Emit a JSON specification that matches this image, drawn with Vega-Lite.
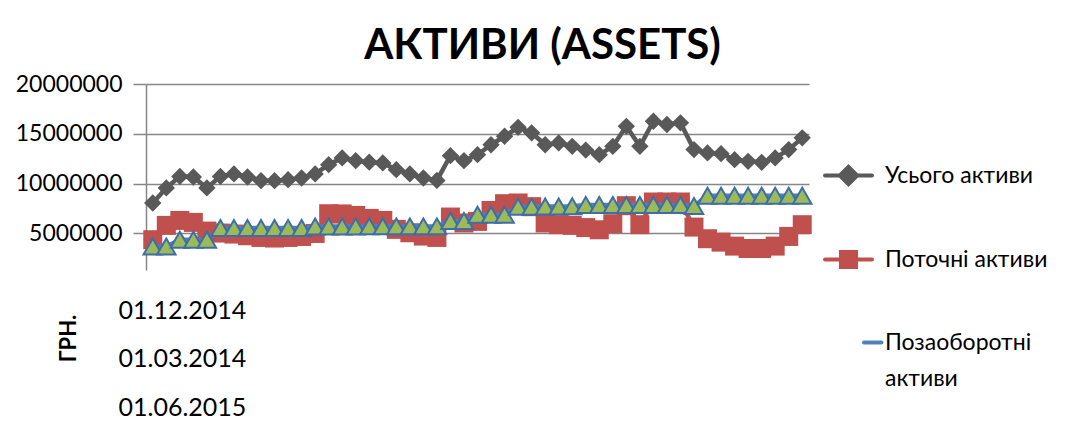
{
  "$schema": "https://vega.github.io/schema/vega-lite/v6.json",
  "autosize": {"type": "none"},
  "padding": {"left": 146, "top": 84, "right": 264, "bottom": 177},
  "width": 663,
  "height": 186,
  "background": "white",
  "config": {
    "view": {"stroke": null},
    "font": "Lato",
    "axis": {"labelFont": "Lato", "labelColor": "black", "titleFont": "Lato", "titleColor": "black"},
    "legend": {"labelFont": "Lato", "labelColor": "black"}
  },
  "title": {
    "text": "АКТИВИ (ASSETS)",
    "font": "Lato",
    "fontSize": 42,
    "fontWeight": "bold",
    "color": "black",
    "anchor": "middle",
    "dx": 65,
    "offset": 5
  },
  "data": {
    "values": [
      {"n": 1, "Усього активи": 8050000, "Поточні активи": 4360000, "Позаоборотні активи": 3680000},
      {"n": 2, "Усього активи": 9560000, "Поточні активи": 5800000, "Позаоборотні активи": 3680000},
      {"n": 3, "Усього активи": 10720000, "Поточні активи": 6300000, "Позаоборотні активи": 4360000},
      {"n": 4, "Усього активи": 10660000, "Поточні активи": 6100000, "Позаоборотні активи": 4360000},
      {"n": 5, "Усього активи": 9560000, "Поточні активи": 5230000, "Позаоборотні активи": 4360000},
      {"n": 6, "Усього активи": 10720000, "Поточні активи": 5030000, "Позаоборотні активи": 5530000},
      {"n": 7, "Усього активи": 10970000, "Поточні активи": 4930000, "Позаоборотні активи": 5530000},
      {"n": 8, "Усього активи": 10660000, "Поточні активи": 4760000, "Позаоборотні активи": 5530000},
      {"n": 9, "Усього активи": 10290000, "Поточні активи": 4590000, "Позаоборотні активи": 5530000},
      {"n": 10, "Усього активи": 10290000, "Поточні активи": 4530000, "Позаоборотні активи": 5530000},
      {"n": 11, "Усього активи": 10390000, "Поточні активи": 4590000, "Позаоборотні активи": 5530000},
      {"n": 12, "Усього активи": 10560000, "Поточні активи": 4690000, "Позаоборотні активи": 5530000},
      {"n": 13, "Усього активи": 10970000, "Поточні активи": 4990000, "Позаоборотні активи": 5680000},
      {"n": 14, "Усього активи": 11900000, "Поточні активи": 6970000, "Позаоборотні активи": 5680000},
      {"n": 15, "Усього активи": 12580000, "Поточні активи": 6950000, "Позаоборотні активи": 5680000},
      {"n": 16, "Усього активи": 12300000, "Поточні активи": 6800000, "Позаоборотні активи": 5680000},
      {"n": 17, "Усього активи": 12150000, "Поточні активи": 6500000, "Позаоборотні активи": 5700000},
      {"n": 18, "Усього активи": 12070000, "Поточні активи": 6300000, "Позаоборотні активи": 5700000},
      {"n": 19, "Усього активи": 11400000, "Поточні активи": 5400000, "Позаоборотні активи": 5700000},
      {"n": 20, "Усього активи": 10970000, "Поточні активи": 5060000, "Позаоборотні активи": 5700000},
      {"n": 21, "Усього активи": 10560000, "Поточні активи": 4730000, "Позаоборотні активи": 5700000},
      {"n": 22, "Усього активи": 10320000, "Поточні активи": 4590000, "Позаоборотні активи": 5700000},
      {"n": 23, "Усього активи": 12800000, "Поточні активи": 6640000, "Позаоборотні активи": 6250000},
      {"n": 24, "Усього активи": 12300000, "Поточні активи": 6040000, "Позаоборотні активи": 6250000},
      {"n": 25, "Усього активи": 12900000, "Поточні активи": 6200000, "Позаоборотні активи": 6870000},
      {"n": 26, "Усього активи": 13900000, "Поточні активи": 7300000, "Позаоборотні активи": 6870000},
      {"n": 27, "Усього активи": 14750000, "Поточні активи": 7980000, "Позаоборотні активи": 6870000},
      {"n": 28, "Усього активи": 15650000, "Поточні активи": 8050000, "Позаоборотні активи": 7680000},
      {"n": 29, "Усього активи": 15100000, "Поточні активи": 7680000, "Позаоборотні активи": 7680000},
      {"n": 30, "Усього активи": 13900000, "Поточні активи": 6040000, "Позаоборотні активи": 7700000},
      {"n": 31, "Усього активи": 14080000, "Поточні активи": 5870000, "Позаоборотні активи": 7700000},
      {"n": 32, "Усього активи": 13740000, "Поточні активи": 5800000, "Позаоборотні активи": 7720000},
      {"n": 33, "Усього активи": 13360000, "Поточні активи": 5580000, "Позаоборотні активи": 7850000},
      {"n": 34, "Усього активи": 12900000, "Поточні активи": 5360000, "Позаоборотні активи": 7850000},
      {"n": 35, "Усього активи": 13740000, "Поточні активи": 5970000, "Позаоборотні активи": 7850000},
      {"n": 36, "Усього активи": 15750000, "Поточні активи": 7780000, "Позаоборотні активи": 7850000},
      {"n": 37, "Усього активи": 13740000, "Поточні активи": 5870000, "Позаоборотні активи": 7850000},
      {"n": 38, "Усього активи": 16260000, "Поточні активи": 8150000, "Позаоборотні активи": 7850000},
      {"n": 39, "Усього активи": 15930000, "Поточні активи": 8150000, "Позаоборотні активи": 7850000},
      {"n": 40, "Усього активи": 16100000, "Поточні активи": 8150000, "Позаоборотні активи": 7850000},
      {"n": 41, "Усього активи": 13410000, "Поточні активи": 5630000, "Позаоборотні активи": 7750000},
      {"n": 42, "Усього активи": 13080000, "Поточні активи": 4460000, "Позаоборотні активи": 8780000},
      {"n": 43, "Усього активи": 13000000, "Поточні активи": 4120000, "Позаоборотні активи": 8780000},
      {"n": 44, "Усього активи": 12400000, "Поточні активи": 3720000, "Позаоборотні активи": 8780000},
      {"n": 45, "Усього активи": 12230000, "Поточні активи": 3480000, "Позаоборотні активи": 8780000},
      {"n": 46, "Усього активи": 12130000, "Поточні активи": 3480000, "Позаоборотні активи": 8780000},
      {"n": 47, "Усього активи": 12580000, "Поточні активи": 3720000, "Позаоборотні активи": 8780000},
      {"n": 48, "Усього активи": 13410000, "Поточні активи": 4690000, "Позаоборотні активи": 8780000},
      {"n": 49, "Усього активи": 14590000, "Поточні активи": 5870000, "Позаоборотні активи": 8780000}
    ]
  },
  "transform": [
    {"fold": ["Усього активи", "Поточні активи", "Позаоборотні активи"], "as": ["series", "value"]}
  ],
  "encoding": {
    "x": {
      "field": "n",
      "type": "ordinal",
      "scale": {"type": "point", "padding": 0.5},
      "axis": {
        "labels": false,
        "ticks": false,
        "domain": false,
        "grid": false,
        "title": ["01.12.2014", "01.03.2014", "01.06.2015"],
        "titleFontSize": 25,
        "titleFontWeight": "normal",
        "titleLineHeight": 48.5,
        "titleAlign": "left",
        "titleBaseline": "middle",
        "titleX": -28,
        "titleY": 40
      }
    },
    "y": {
      "field": "value",
      "type": "quantitative",
      "scale": {"domain": [1320000, 20000000], "nice": false, "zero": false},
      "axis": {
        "values": [5000000, 10000000, 15000000, 20000000],
        "format": "d",
        "labelFontSize": 23,
        "labelPadding": 11,
        "tickSize": 13,
        "tickColor": "#868686",
        "tickWidth": 1.5,
        "gridColor": "#868686",
        "gridWidth": 1.5,
        "domainColor": "#868686",
        "domainWidth": 1.5,
        "title": "ГРН.",
        "titleFontSize": 22,
        "titleFontWeight": "bold",
        "titleAngle": -90,
        "titleAlign": "center",
        "titleBaseline": "middle",
        "titleX": -78,
        "titleY": 254
      }
    }
  },
  "layer": [
    {
      "transform": [{"filter": "datum.series === 'Усього активи'"}],
      "mark": {"type": "line", "strokeWidth": 4.5, "strokeJoin": "round"},
      "encoding": {
        "color": {
          "field": "series",
          "type": "nominal",
          "scale": {"domain": ["Усього активи", "Поточні активи", "Позаоборотні активи"], "range": ["#595959", "#C0504D", "#4F81BD"]},
          "legend": {
            "orient": "none",
            "legendX": 677,
            "legendY": 66,
            "title": null,
            "direction": "vertical",
            "labelFontSize": 23,
            "labelOffset": 11,
            "rowPadding": 41,
            "symbolSize": 2209,
            "symbolStrokeWidth": 4,
            "labelLimit": 300,
            "labelExpr": "datum.label === 'Позаоборотні активи' ? ['Позаоборотні', 'активи'] : datum.label",
            "encode": {
              "symbols": {
                "update": {
                  "shape": {"signal": "datum.value === 'Усього активи' ? 'M-1,0L1,0M0,-0.37L0.37,0L0,0.37L-0.37,0Z' : datum.value === 'Поточні активи' ? 'M-1,0L1,0M-0.32,-0.32L0.32,-0.32L0.32,0.32L-0.32,0.32Z' : 'M0.66,0L1.4,0'"},
                  "fill": {"signal": "datum.value === 'Усього активи' ? '#595959' : datum.value === 'Поточні активи' ? '#C0504D' : 'transparent'"},
                  "stroke": {"signal": "datum.value === 'Усього активи' ? '#595959' : datum.value === 'Поточні активи' ? '#C0504D' : '#4F81BD'"},
                  "strokeWidth": {"value": 4},
                  "strokeCap": {"value": "round"}
                }
              },
              "labels": {
                "update": {
                  "lineHeight": {"value": 36}
                }
              }
            }
          }
        }
      }
    },
    {
      "transform": [{"filter": "datum.series === 'Усього активи'"}],
      "mark": {"type": "point", "shape": "diamond", "size": 300, "filled": true, "color": "#595959", "opacity": 1}
    },
    {
      "transform": [{"filter": "datum.series === 'Поточні активи'"}],
      "mark": {"type": "line", "strokeWidth": 4.5, "strokeJoin": "round"},
      "encoding": {"color": {"field": "series", "type": "nominal"}}
    },
    {
      "transform": [{"filter": "datum.series === 'Поточні активи'"}],
      "mark": {"type": "point", "shape": "square", "size": 361, "filled": true, "color": "#C0504D", "opacity": 1}
    },
    {
      "transform": [{"filter": "datum.series === 'Позаоборотні активи'"}],
      "mark": {"type": "line", "strokeWidth": 4.5, "strokeJoin": "round"},
      "encoding": {"color": {"field": "series", "type": "nominal"}}
    },
    {
      "transform": [{"filter": "datum.series === 'Позаоборотні активи'"}],
      "mark": {"type": "point", "shape": "triangle-up", "size": 340, "filled": true, "fill": "#9BBB59", "stroke": "#3F6DAA", "strokeWidth": 2, "opacity": 1}
    }
  ]
}
